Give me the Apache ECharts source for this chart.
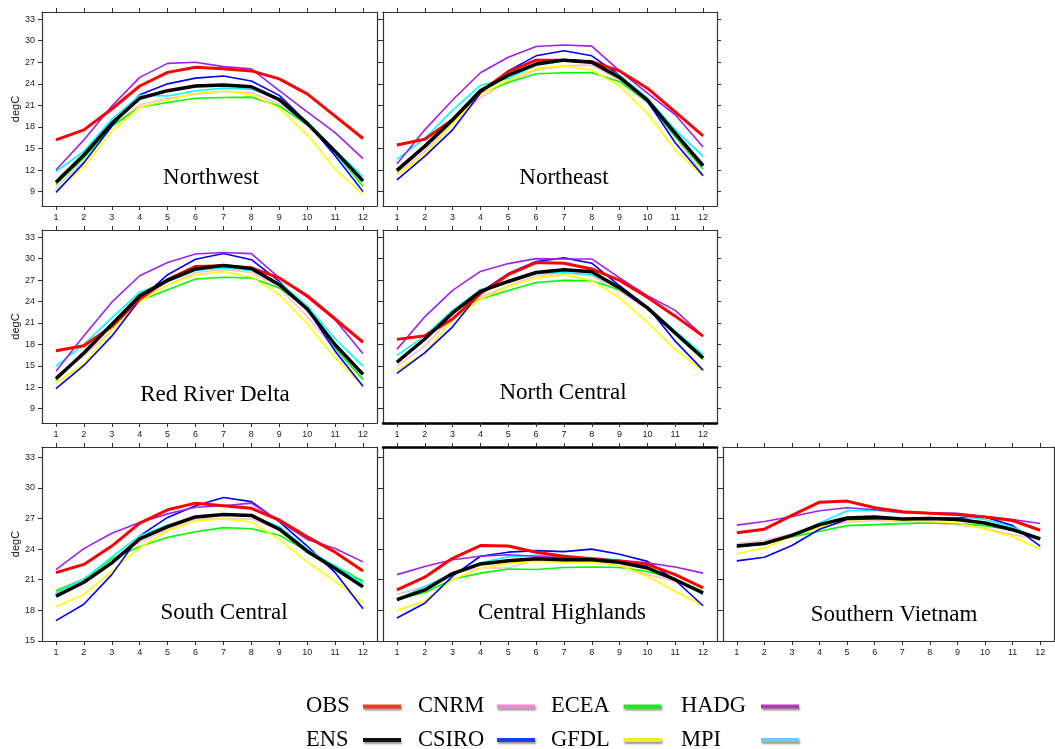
<!DOCTYPE html>
<html>
<head>
<meta charset="utf-8">
<script src="https://cdn.jsdelivr.net/npm/echarts@6/dist/echarts.min.js"></script>
<style>
  html, body { margin: 0; padding: 0; background: #ffffff; }
  #chart { width: 1055px; height: 749px; }
</style>
</head>
<body>
<div id="chart"></div>
<script>
// Monthly mean temperature (degC) per climate region: observations, ensemble mean and six models.
const months = ['1', '2', '3', '4', '5', '6', '7', '8', '9', '10', '11', '12'];
const regions = ['Northwest', 'Northeast', 'Red River Delta', 'North Central',
                 'South Central', 'Central Highlands', 'Southern Vietnam'];
const upperTicks = [9, 12, 15, 18, 21, 24, 27, 30, 33];
const lowerTicks = [15, 18, 21, 24, 27, 30, 33];

// one row per region, in the order of `regions`
const OBS = [
  [16.2, 17.6, 20.5, 23.7, 25.6, 26.3, 26.1, 25.8, 24.7, 22.6, 19.5, 16.4],
  [15.5, 16.3, 19.0, 22.9, 25.7, 27.3, 27.3, 27.1, 25.8, 23.4, 20.1, 16.75],
  [17.1, 17.8, 20.5, 24.35, 27.05, 28.9, 29.0, 28.7, 27.3, 24.8, 21.55, 18.3],
  [18.7, 19.2, 21.55, 25.1, 27.75, 29.45, 29.35, 28.55, 26.95, 24.6, 21.95, 19.15],
  [21.7, 22.5, 24.3, 26.55, 27.85, 28.5, 28.25, 28.0, 26.85, 25.2, 23.7, 21.85],
  [20.0, 21.25, 23.1, 24.35, 24.3, 23.7, 23.3, 23.05, 22.8, 22.5, 21.5, 20.2],
  [25.6, 25.95, 27.3, 28.6, 28.7, 28.05, 27.65, 27.5, 27.4, 27.15, 26.8, 25.85]
];
const ENS = [
  [10.3, 14.1, 18.5, 22.0, 23.05, 23.7, 23.85, 23.6, 21.8, 18.5, 14.6, 10.5],
  [11.95, 15.3, 19.0, 23.05, 25.2, 26.75, 27.3, 27.0, 24.9, 21.75, 17.1, 12.6],
  [13.2, 16.8, 20.8, 24.8, 26.95, 28.55, 29.05, 28.6, 26.35, 22.95, 17.95, 13.8],
  [15.5, 18.75, 22.4, 25.4, 26.8, 28.05, 28.45, 28.15, 25.9, 23.1, 19.6, 16.1],
  [19.4, 20.75, 22.65, 25.0, 26.2, 27.15, 27.4, 27.3, 25.95, 23.8, 22.1, 20.3],
  [19.05, 20.0, 21.6, 22.55, 22.85, 23.05, 22.95, 22.95, 22.7, 22.15, 21.0, 19.7],
  [24.3, 24.55, 25.35, 26.4, 27.05, 27.15, 26.95, 27.0, 26.9, 26.55, 25.9, 25.0]
];
const CNRM = [
  [9.6, 13.2, 18.1, 21.1, 22.0, 22.55, 22.9, 22.8, 21.2, 18.2, 14.6, 10.3],
  [11.55, 14.6, 18.75, 22.1, 24.3, 25.9, 26.5, 26.6, 24.5, 21.3, 16.65, 11.35],
  [13.55, 16.35, 20.05, 24.0, 26.35, 28.05, 28.45, 28.05, 25.9, 21.9, 17.3, 13.1],
  [14.95, 17.75, 21.95, 24.6, 26.2, 27.6, 27.95, 27.6, 25.4, 22.95, 19.6, 16.1],
  [20.0, 21.1, 23.0, 24.65, 25.95, 26.95, 27.0, 26.95, 25.95, 23.65, 22.1, 20.4],
  [19.55, 20.35, 21.65, 22.15, 22.15, 22.9, 22.8, 22.7, 22.55, 21.5, 20.85, 19.65],
  [24.55, 24.85, 25.5, 26.15, 26.6, 26.8, 26.7, 26.55, 26.4, 26.05, 25.4, 24.95]
];
const CSIRO = [
  [8.9, 13.0, 18.1, 22.5, 24.0, 24.8, 25.1, 24.4, 22.4, 18.6, 14.0, 9.0],
  [10.65, 13.9, 17.6, 22.7, 25.8, 27.9, 28.6, 27.9, 25.2, 21.6, 15.8, 11.2],
  [11.8, 15.05, 19.15, 24.25, 27.75, 29.9, 30.7, 29.85, 26.8, 22.95, 17.05, 12.15],
  [13.95, 16.8, 20.45, 25.3, 27.9, 29.6, 30.1, 29.35, 26.2, 23.25, 18.45, 14.4],
  [17.0, 18.6, 21.5, 25.3, 27.1, 28.25, 29.05, 28.65, 26.7, 24.3, 21.7, 18.15],
  [17.25, 18.7, 21.35, 23.3, 23.7, 23.85, 23.75, 24.0, 23.5, 22.8, 20.95, 18.45],
  [22.85, 23.2, 24.35, 25.95, 26.9, 26.95, 26.95, 27.05, 27.05, 27.15, 26.3, 24.3]
];
const ECEA = [
  [10.0, 13.7, 18.1, 20.75, 21.4, 22.0, 22.1, 22.15, 20.9, 18.3, 14.4, 9.75],
  [11.8, 15.4, 18.75, 22.7, 24.2, 25.4, 25.55, 25.55, 24.3, 21.5, 16.65, 12.1],
  [13.0, 16.8, 21.0, 24.15, 25.65, 27.15, 27.4, 27.3, 25.9, 23.1, 17.5, 13.1],
  [15.4, 18.7, 22.75, 24.35, 25.55, 26.65, 26.95, 26.9, 25.65, 23.25, 19.4, 15.9],
  [19.9, 21.05, 23.05, 24.25, 25.15, 25.7, 26.1, 26.0, 25.35, 23.8, 22.35, 20.85],
  [19.1, 19.75, 21.05, 21.65, 22.05, 22.0, 22.2, 22.25, 22.2, 21.8, 21.05, 19.85],
  [24.2, 24.6, 25.2, 25.75, 26.3, 26.4, 26.5, 26.55, 26.5, 26.3, 25.85, 25.1]
];
const GFDL = [
  [9.05, 12.5, 17.4, 20.75, 21.75, 22.7, 23.0, 22.5, 20.6, 16.9, 12.15, 8.6],
  [11.35, 14.1, 18.5, 22.6, 24.5, 26.15, 26.5, 25.9, 23.7, 19.9, 14.8, 11.1],
  [12.6, 15.3, 20.05, 24.0, 26.35, 27.75, 28.2, 27.4, 24.95, 20.9, 16.1, 12.15],
  [14.4, 16.8, 21.45, 24.35, 26.1, 27.3, 27.75, 26.95, 24.5, 21.1, 17.3, 14.25],
  [18.35, 19.55, 21.85, 24.15, 25.8, 26.75, 26.95, 26.65, 24.95, 22.75, 20.85, 18.75],
  [18.0, 18.9, 21.0, 22.15, 22.6, 22.8, 22.7, 22.75, 22.4, 21.35, 19.85, 18.45],
  [23.55, 24.1, 25.25, 26.15, 26.8, 26.95, 26.8, 26.7, 26.55, 25.95, 25.2, 24.0]
];
const HADG = [
  [12.0, 16.2, 20.9, 24.9, 26.85, 27.0, 26.4, 26.1, 23.05, 20.1, 17.2, 13.6],
  [12.85, 17.6, 21.75, 25.55, 27.7, 29.2, 29.4, 29.25, 25.8, 22.7, 19.7, 15.2],
  [14.25, 19.2, 23.9, 27.6, 29.45, 30.65, 30.85, 30.7, 27.3, 24.6, 21.45, 16.7],
  [17.3, 21.85, 25.55, 28.2, 29.3, 30.0, 29.95, 29.95, 27.3, 24.8, 22.75, 19.15],
  [22.0, 24.05, 25.55, 26.6, 27.45, 28.1, 28.25, 28.5, 26.75, 24.95, 24.05, 22.75],
  [21.5, 22.3, 22.95, 23.3, 23.45, 23.3, 23.15, 23.05, 22.9, 22.65, 22.25, 21.65],
  [26.35, 26.7, 27.2, 27.75, 28.05, 27.85, 27.6, 27.55, 27.5, 27.2, 26.9, 26.5]
];
const MPI = [
  [11.8, 14.6, 19.1, 22.4, 22.3, 23.05, 23.4, 23.25, 21.85, 18.75, 14.8, 11.1],
  [13.5, 16.4, 20.35, 23.8, 24.75, 26.6, 27.2, 26.95, 25.2, 22.0, 17.6, 13.9],
  [14.95, 18.0, 21.7, 25.3, 26.8, 28.35, 28.7, 28.35, 26.6, 23.4, 18.75, 14.95],
  [16.45, 19.2, 22.75, 25.65, 26.7, 27.9, 28.05, 27.75, 25.9, 23.25, 19.85, 16.6],
  [19.7, 21.05, 23.25, 25.3, 26.35, 27.2, 27.35, 27.25, 26.2, 24.0, 22.3, 20.65],
  [19.1, 20.35, 21.6, 22.65, 23.25, 23.4, 23.25, 23.15, 22.95, 22.3, 21.0, 19.55],
  [24.2, 24.5, 25.3, 26.55, 27.75, 27.8, 27.55, 27.5, 27.3, 26.9, 26.15, 25.05]
];

// drawing order: thin model lines first, observations and ensemble mean on top
const lines = [
  { name: 'CNRM',  values: CNRM,  color: '#ffc0cb', width: 1.6 },
  { name: 'ECEA',  values: ECEA,  color: '#00ff00', width: 1.6 },
  { name: 'GFDL',  values: GFDL,  color: '#ffff00', width: 1.6 },
  { name: 'CSIRO', values: CSIRO, color: '#0000ff', width: 1.6 },
  { name: 'MPI',   values: MPI,   color: '#00ffff', width: 1.6 },
  { name: 'HADG',  values: HADG,  color: '#a020f0', width: 1.6 },
  { name: 'OBS',   values: OBS,   color: '#ff0000', width: 3 },
  { name: 'ENS',   values: ENS,   color: '#000000', width: 3.5 }
];

// panel frames: 2 + 2 + 3 layout
const frames = [
  { left: 42,  top: 12,  width: 335, height: 194, yMin: 7,  ticks: upperTicks, yLabels: true,  title: [211, 178] },
  { left: 383, top: 12,  width: 334, height: 194, yMin: 7,  ticks: upperTicks, yLabels: false, title: [564, 178] },
  { left: 42,  top: 230, width: 335, height: 193, yMin: 7,  ticks: upperTicks, yLabels: true,  title: [215, 395] },
  { left: 383, top: 230, width: 334, height: 193, yMin: 7,  ticks: upperTicks, yLabels: false, title: [563, 393], thickBottom: true },
  { left: 42,  top: 447, width: 335, height: 194, yMin: 15, ticks: lowerTicks, yLabels: true,  title: [224, 613] },
  { left: 383, top: 447, width: 334, height: 194, yMin: 15, ticks: lowerTicks, yLabels: false, title: [562, 613], thickTop: true },
  { left: 723, top: 447, width: 331, height: 194, yMin: 15, ticks: lowerTicks, yLabels: false, title: [894, 615] }
];

const frameColor = '#333333';
const tickFont = { fontFamily: 'Liberation Sans', fontSize: 9, color: '#222222' };

function frameLine(thick) {
  return thick ? { show: true, lineStyle: { color: '#000000', width: 2.5 } }
               : { show: true, lineStyle: { color: frameColor, width: 1.2 } };
}

const grid = [], xAxis = [], yAxis = [], series = [], graphic = [];
frames.forEach(function (f, i) {
  grid.push({ left: f.left, top: f.top, width: f.width, height: f.height, containLabel: false });
  // bottom axis with month labels, top axis mirrors the ticks
  xAxis.push({
    type: 'category', gridIndex: i, position: 'bottom', data: months, boundaryGap: true,
    axisLine: frameLine(f.thickBottom),
    axisTick: { show: true, alignWithLabel: true, length: 4, lineStyle: { color: frameColor } },
    axisLabel: Object.assign({ margin: 7, interval: 0 }, tickFont),
    splitLine: { show: false }
  });
  xAxis.push({
    type: 'category', gridIndex: i, position: 'top', data: months, boundaryGap: true,
    axisLine: frameLine(f.thickTop),
    axisTick: { show: true, alignWithLabel: true, length: 4, lineStyle: { color: frameColor } },
    axisLabel: { show: false },
    splitLine: { show: false }
  });
  yAxis.push({
    type: 'value', gridIndex: i, position: 'left', min: f.yMin, max: 34,
    name: f.yLabels ? 'degC' : '', nameLocation: 'middle', nameGap: 21, nameRotate: 90,
    nameTextStyle: { fontFamily: 'Liberation Sans', fontSize: 11, color: '#111111' },
    axisLine: frameLine(false),
    axisTick: { show: true, length: 4, customValues: f.ticks, lineStyle: { color: frameColor } },
    axisLabel: Object.assign({ show: f.yLabels, margin: 7, customValues: f.ticks }, tickFont),
    splitLine: { show: false }
  });
  yAxis.push({
    type: 'value', gridIndex: i, position: 'right', min: f.yMin, max: 34,
    axisLine: frameLine(false),
    axisTick: { show: true, length: 4, customValues: f.ticks, lineStyle: { color: frameColor } },
    axisLabel: { show: false },
    splitLine: { show: false }
  });
  lines.forEach(function (l) {
    series.push({
      type: 'line', name: l.name, xAxisIndex: 2 * i, yAxisIndex: 2 * i,
      data: l.values[i], symbol: 'none', silent: true,
      lineStyle: { color: l.color, width: l.width, join: 'round' },
      itemStyle: { color: l.color }
    });
  });
  graphic.push({
    type: 'text', x: f.title[0], y: f.title[1],
    style: {
      text: regions[i], fill: '#000000', align: 'center', verticalAlign: 'middle',
      font: '23px "Liberation Serif"'
    }
  });
});

// key below the panels: two rows of four, name followed by a line swatch
const keyItems = [
  { name: 'OBS',   left: 306, top: 695,   pad: [0, 8.2, 0, 0],  swatch: '#ee3a22' },
  { name: 'CNRM',  left: 418, top: 695,   pad: [0, 7.7, 0, 0],  swatch: '#ee8ad0' },
  { name: 'ECEA',  left: 551, top: 695,   pad: [0, 8.8, 0, 0],  swatch: '#14ee14' },
  { name: 'HADG',  left: 681, top: 695,   pad: [0, 10, 0, 0],   swatch: '#b03cb4' },
  { name: 'ENS',   left: 306, top: 728.5, pad: [0, 9.5, 12, 0], swatch: '#111111' },
  { name: 'CSIRO', left: 418, top: 728.5, pad: [0, 7.7, 12, 0], swatch: '#1a3ef0' },
  { name: 'GFDL',  left: 551, top: 728.5, pad: [0, 8.8, 12, 0], swatch: '#eeee1e' },
  { name: 'MPI',   left: 681, top: 728.5, pad: [0, 35, 12, 0],  swatch: '#72c8ee' }
];
const legend = keyItems.map(function (k) {
  return {
    left: k.left, top: k.top, padding: 0, align: 'right', orient: 'horizontal',
    selectedMode: false, icon: 'rect', itemWidth: 38, itemHeight: 4,
    data: [{
      name: k.name,
      itemStyle: { color: k.swatch, shadowColor: 'rgba(0,0,0,0.4)', shadowBlur: 2, shadowOffsetX: 1, shadowOffsetY: 2 },
      textStyle: { padding: k.pad }
    }],
    textStyle: { fontFamily: 'Liberation Serif', fontSize: 22.5, color: '#000000' }
  };
});

const chart = echarts.init(document.getElementById('chart'), null, { renderer: 'canvas' });
chart.setOption({
  animation: false,
  backgroundColor: '#ffffff',
  grid: grid,
  xAxis: xAxis,
  yAxis: yAxis,
  series: series,
  legend: legend,
  graphic: graphic
});
</script>
</body>
</html>
